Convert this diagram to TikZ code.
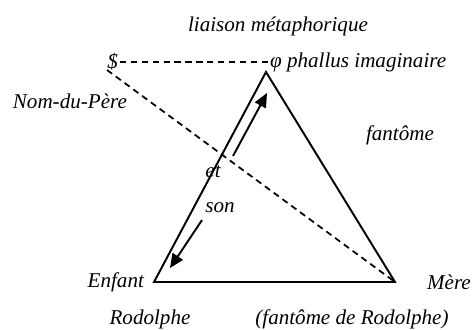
\documentclass[tikz,border=0pt]{standalone}
\usepackage{fontspec}
\setmainfont{Liberation Serif}
\usetikzlibrary{arrows.meta}

\begin{document}
\begin{tikzpicture}[x=0.02cm, y=-0.02cm,
    every node/.style={font=\fontsize{12}{14}\selectfont\itshape, inner sep=1pt},
    side/.style={line width=1.1pt},
    dashln/.style={line width=1pt, dash pattern=on 3.6pt off 2.6pt},
    arr/.style={-{Triangle[length=8pt, width=7pt]}, line width=1.1pt},
]
\useasboundingbox (0,0) rectangle (473,329);
% corners of the triangle
\coordinate (phiv) at (266,72);
\coordinate (enf)  at (154,282);
\coordinate (mer)  at (395,282);
% labels
\node (liais) at (278,26) {liaison métaphorique};
\node[anchor=east] (barS) at (120,62) {\$};
\node[anchor=west] (phi) at (268,62) {φ phallus imaginaire};
\node[anchor=east] (ndp) at (129,101) {Nom-du-Père};
\node (fant) at (400,135) {fantôme};
\node (et)  at (213,172) {et};
\node (son) at (220,208) {son};
\node[anchor=east] (enfl) at (146,282) {Enfant};
\node[anchor=west] (merl) at (425,282) {Mère};
\node (rod)  at (150,319) {Rodolphe};
\node (frod) at (352,319) {(fantôme de Rodolphe)};
% triangle
\draw[side] (phiv) -- (enf) -- (mer) -- cycle;
% dashed links
\coordinate (ndpA) at (107,70);
\draw[dashln] (barS.east) -- (phi.west);
\draw[dashln] (ndpA) -- (mer);
% arrows, cut by et / son
\coordinate (upA) at (233,156);
\coordinate (upB) at (267,93);
\coordinate (loA) at (202,220);
\coordinate (loB) at (170,268);
\draw[arr] (upA) -- (upB);
\draw[arr] (loA) -- (loB);
\end{tikzpicture}
\end{document}
